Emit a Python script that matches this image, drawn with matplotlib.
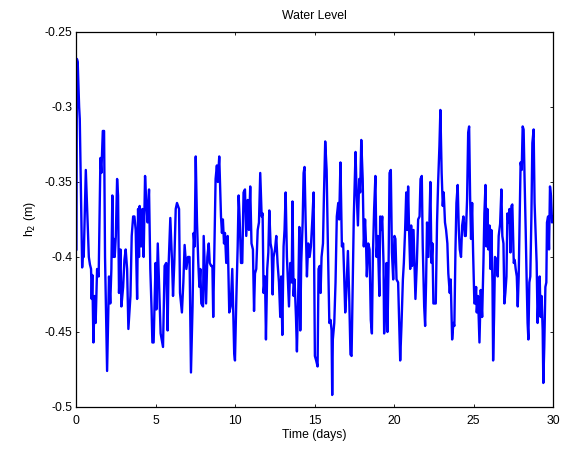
import matplotlib
matplotlib.use('Agg')
import matplotlib.pyplot as plt
from matplotlib.ticker import FuncFormatter

# water level h2 (m), time in days
time_days = [
    0.00, 0.03, 0.08, 0.17, 0.21, 0.36, 0.42, 0.46, 0.59, 0.78, 0.85, 0.92, 0.96, 1.00, 1.07, 1.15, 1.21, 1.30,
    1.40, 1.51, 1.57, 1.66, 1.74, 1.80, 1.93, 2.05, 2.13, 2.20, 2.26, 2.30, 2.37, 2.41, 2.48, 2.56, 2.62, 2.68,
    2.77, 2.83, 2.94, 3.02, 3.10, 3.19, 3.27, 3.40, 3.48, 3.57, 3.65, 3.73, 3.82, 3.88, 3.94, 3.98, 4.07, 4.15,
    4.23, 4.32, 4.40, 4.48, 4.57, 4.65, 4.73, 4.78, 4.86,
    4.98, 5.03, 5.12, 5.30, 5.45, 5.55, 5.65, 5.74, 5.80, 5.91, 6.02, 6.08, 6.16, 6.25, 6.33, 6.46, 6.52, 6.64,
    6.73, 6.81, 6.92, 7.02, 7.12, 7.21, 7.31, 7.38, 7.44, 7.51, 7.59, 7.67, 7.74, 7.80, 7.86, 7.97, 8.01, 8.08,
    8.16, 8.24, 8.33, 8.39, 8.48, 8.56, 8.61, 8.67, 8.76, 8.84, 8.90, 8.99, 9.10, 9.16, 9.22, 9.29, 9.35, 9.43,
    9.52, 9.62, 9.71, 9.81, 9.93,
    9.98, 10.07, 10.15, 10.21, 10.27, 10.36, 10.44, 10.52, 10.61, 10.69, 10.78, 10.86, 10.94, 11.02, 11.11,
    11.18, 11.24, 11.32, 11.41, 11.49, 11.57, 11.66, 11.72, 11.78, 11.87, 11.93, 12.01, 12.08, 12.14, 12.22,
    12.29, 12.35, 12.41, 12.50, 12.58, 12.66, 12.75, 12.83, 12.89, 12.96, 13.04, 13.10, 13.17, 13.25, 13.32,
    13.38, 13.46, 13.55, 13.60, 13.67, 13.73, 13.82, 13.88, 13.96, 14.03, 14.09, 14.15, 14.24, 14.30, 14.36,
    14.43, 14.51, 14.59, 14.68, 14.76, 14.85, 14.93, 15.01,
    15.09, 15.18, 15.24, 15.31, 15.37, 15.43, 15.52, 15.58, 15.66, 15.75, 15.83, 15.92, 16.00, 16.06, 16.10,
    16.14, 16.23, 16.31, 16.39, 16.48, 16.54, 16.62, 16.71, 16.79, 16.85, 16.92, 16.98, 17.09, 17.17, 17.25,
    17.32, 17.38, 17.46, 17.57, 17.63, 17.72, 17.80, 17.86, 17.93, 18.02, 18.09, 18.17, 18.23, 18.28, 18.37,
    18.45, 18.53, 18.60, 18.66, 18.74, 18.82, 18.89, 18.97, 19.07, 19.12, 19.18, 19.25, 19.33, 19.37, 19.46,
    19.52, 19.58, 19.65, 19.71, 19.79, 19.86, 19.94, 20.02,
    20.08, 20.15, 20.25, 20.32, 20.38, 20.46, 20.55, 20.61, 20.69, 20.76, 20.82, 20.88, 20.94, 21.01, 21.07,
    21.13, 21.22, 21.28, 21.34, 21.43, 21.51, 21.60, 21.66, 21.74, 21.80, 21.89, 21.95, 22.01, 22.07, 22.16,
    22.22, 22.28, 22.35, 22.41, 22.47, 22.56, 22.62, 22.70, 22.77, 22.85, 22.91, 22.99, 23.06, 23.12, 23.20,
    23.27, 23.35, 23.41, 23.50, 23.56, 23.65, 23.73, 23.79, 23.86, 23.92, 24.00, 24.07, 24.13, 24.21, 24.28,
    24.36, 24.45, 24.51, 24.59, 24.66, 24.72, 24.78, 24.84, 24.91, 24.97, 25.05,
    25.09, 25.16, 25.20, 25.28, 25.37, 25.45, 25.54, 25.62, 25.68, 25.75, 25.81, 25.87, 25.93, 26.00, 26.06,
    26.12, 26.19, 26.23, 26.29, 26.35, 26.44, 26.52, 26.58, 26.67, 26.75, 26.81, 26.88, 26.94, 27.00, 27.07,
    27.13, 27.19, 27.26, 27.32, 27.38, 27.44, 27.53, 27.59, 27.65, 27.72, 27.78, 27.84, 27.90, 27.96, 28.03,
    28.09, 28.15, 28.21, 28.28, 28.34, 28.40, 28.45, 28.51, 28.57, 28.64, 28.70, 28.78, 28.84, 28.91, 28.97,
    29.03, 29.09, 29.16, 29.22, 29.28, 29.35, 29.39, 29.45, 29.52, 29.58, 29.62, 29.69, 29.75, 29.81, 29.87,
    29.94, 30.00,
]
h2 = [
    -0.395, -0.268, -0.270, -0.300, -0.308, -0.407, -0.393, -0.400, -0.342, -0.400, -0.405, -0.408, -0.428, -0.412,
    -0.457, -0.426, -0.444, -0.408, -0.413, -0.334, -0.344, -0.316, -0.316, -0.400, -0.476, -0.413, -0.431, -0.408,
    -0.359, -0.400, -0.388, -0.400, -0.386, -0.348, -0.359, -0.424, -0.395, -0.433, -0.420, -0.402, -0.395, -0.408,
    -0.448, -0.426, -0.386, -0.373, -0.373, -0.382, -0.428, -0.368, -0.400, -0.366, -0.393, -0.368, -0.400, -0.346,
    -0.364, -0.377, -0.355, -0.408, -0.435, -0.457, -0.457,
    -0.404, -0.435, -0.391, -0.451, -0.460, -0.406, -0.404, -0.449, -0.406, -0.374, -0.404, -0.426, -0.404, -0.368,
    -0.364, -0.368, -0.424, -0.437, -0.417, -0.392, -0.408, -0.400, -0.400, -0.477, -0.433, -0.384, -0.393, -0.333,
    -0.377, -0.404, -0.420, -0.408, -0.431, -0.433, -0.386, -0.408, -0.431, -0.400, -0.391, -0.404, -0.406, -0.406,
    -0.440, -0.402, -0.348, -0.339, -0.350, -0.333, -0.373, -0.384, -0.375, -0.391, -0.384, -0.404, -0.386, -0.437,
    -0.433, -0.408, -0.464,
    -0.469, -0.426, -0.393, -0.359, -0.373, -0.404, -0.404, -0.357, -0.355, -0.386, -0.362, -0.382, -0.353, -0.391,
    -0.395, -0.436, -0.411, -0.408, -0.382, -0.377, -0.344, -0.373, -0.371, -0.424, -0.413, -0.455, -0.408, -0.397,
    -0.369, -0.391, -0.395, -0.425, -0.400, -0.395, -0.386, -0.404, -0.417, -0.440, -0.413, -0.452, -0.393, -0.382,
    -0.357, -0.400, -0.417, -0.433, -0.404, -0.417, -0.363, -0.426, -0.415, -0.440, -0.463, -0.426, -0.380, -0.449,
    -0.404, -0.377, -0.344, -0.340, -0.377, -0.413, -0.391, -0.400, -0.393, -0.375, -0.357, -0.466,
    -0.469, -0.473, -0.408, -0.406, -0.424, -0.400, -0.391, -0.359, -0.323, -0.342, -0.393, -0.444, -0.442, -0.449,
    -0.492, -0.455, -0.444, -0.417, -0.373, -0.364, -0.375, -0.337, -0.393, -0.391, -0.411, -0.437, -0.426, -0.396,
    -0.426, -0.465, -0.466, -0.426, -0.373, -0.330, -0.355, -0.379, -0.348, -0.357, -0.322, -0.348, -0.393, -0.375,
    -0.391, -0.413, -0.391, -0.395, -0.442, -0.451, -0.400, -0.368, -0.346, -0.400, -0.386, -0.426, -0.373, -0.382,
    -0.373, -0.404, -0.451, -0.426, -0.404, -0.450, -0.404, -0.344, -0.342, -0.397, -0.415, -0.386,
    -0.388, -0.415, -0.417, -0.444, -0.469, -0.446, -0.415, -0.404, -0.382, -0.357, -0.382, -0.353, -0.382, -0.408,
    -0.379, -0.406, -0.382, -0.404, -0.428, -0.404, -0.375, -0.373, -0.348, -0.346, -0.393, -0.433, -0.446, -0.417,
    -0.377, -0.400, -0.377, -0.350, -0.404, -0.391, -0.431, -0.431, -0.431, -0.377, -0.350, -0.326, -0.302, -0.344,
    -0.366, -0.357, -0.377, -0.382, -0.391, -0.411, -0.424, -0.415, -0.455, -0.444, -0.446, -0.395, -0.364, -0.352,
    -0.382, -0.395, -0.400, -0.379, -0.373, -0.386, -0.386, -0.362, -0.317, -0.313, -0.359, -0.388, -0.364, -0.397,
    -0.431,
    -0.431, -0.420, -0.437, -0.426, -0.457, -0.422, -0.440, -0.404, -0.371, -0.352, -0.393, -0.368, -0.395, -0.379,
    -0.408, -0.382, -0.417, -0.469, -0.440, -0.400, -0.402, -0.413, -0.386, -0.378, -0.355, -0.386, -0.391, -0.431,
    -0.424, -0.413, -0.371, -0.377, -0.368, -0.397, -0.366, -0.365, -0.404, -0.402, -0.408, -0.413, -0.433, -0.413,
    -0.375, -0.337, -0.342, -0.313, -0.315, -0.348, -0.382, -0.415, -0.444, -0.455, -0.417, -0.413, -0.373, -0.324,
    -0.315, -0.364, -0.386, -0.404, -0.444, -0.426, -0.413, -0.440, -0.426, -0.449, -0.484, -0.460, -0.420, -0.417,
    -0.377, -0.373, -0.395, -0.353, -0.359, -0.377, -0.373,
]

plt.rcParams['font.family'] = ['Liberation Sans', 'DejaVu Sans']
plt.rcParams['font.size'] = 8.8

fig = plt.figure(figsize=(5.62, 4.51), dpi=100)
ax = fig.add_axes([0.136, 0.0976, 0.848, 0.8316])

ax.plot(time_days, h2, color='#0000ff', linewidth=1.7)

ax.set_xlim(0, 30)
ax.set_ylim(-0.5, -0.25)
ax.set_xticks([0, 5, 10, 15, 20, 25, 30])
ax.set_yticks([-0.5, -0.45, -0.4, -0.35, -0.3, -0.25])
ax.yaxis.set_major_formatter(FuncFormatter(lambda v, p: '%g' % v))

ax.tick_params(direction='in', top=True, right=True, length=2.5, width=0.6)
ax.tick_params(axis='x', pad=6)
ax.tick_params(axis='y', pad=3)
for s in ax.spines.values():
    s.set_linewidth(0.9)

ax.set_title('Water Level', fontsize=8.8, pad=9)
ax.set_xlabel('Time (days)', labelpad=1)
ax.set_ylabel('h$_2$ (m)', labelpad=5)

fig.savefig('out.png', dpi=100)
